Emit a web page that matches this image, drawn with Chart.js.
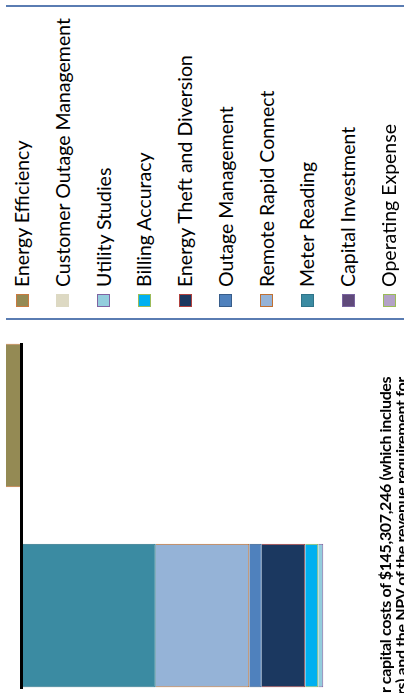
<!DOCTYPE html>
<html lang="en">
<head>
<meta charset="utf-8">
<title>NPV of benefits</title>
<script src="https://cdn.jsdelivr.net/npm/chart.js@4.4.1/dist/chart.umd.min.js"></script>
<style>
    html, body {
        margin: 0;
        padding: 0;
        background: #fff;
    }
    body {
        width: 404px;
        height: 693px;
        overflow: hidden;
        position: relative;
    }
    /* the chart is laid out landscape (693 x 404) and turned a quarter left */
    #sheet {
        position: absolute;
        left: 0;
        top: 0;
        width: 693px;
        height: 404px;
        overflow: hidden;
        transform-origin: 0 0;
        transform: translateY(693px) rotate(-90deg);
        font-family: Lato, "Open Sans", sans-serif;
        color: #000;
    }
    #plot {
        position: absolute;
        left: 0;
        top: 6px;
        width: 350px;
        height: 398px;
    }
    #legend {
        position: absolute;
        left: 373px;
        top: 6px;
        width: 311px;
        height: 398px;
        border-left: 2px solid #5a7cb2;
        border-right: 2px solid #5a7cb2;
    }
    .item {
        position: absolute;
        left: 0;
        width: 311px;
        height: 40px;
    }
    .swatch {
        position: absolute;
        left: 11px;
        top: 13.5px;
        width: 11px;
        height: 11px;
        border: 1px solid;
    }
    .label {
        position: absolute;
        left: 31px;
        top: 0;
        line-height: 40px;
        font-size: 19.5px;
        white-space: nowrap;
    }
    #note {
        position: absolute;
        left: 0;
        top: 376.5px;
        font-weight: bold;
        font-size: 16px;
        line-height: 16.5px;
        letter-spacing: -0.35px;
        white-space: nowrap;
    }
</style>
</head>
<body>
<div id="sheet">
    <div id="plot"><canvas id="barChart"></canvas></div>
    <div id="legend"></div>
    <div id="note">
        <div>r capital costs of $145,307,246 (which includes</div>
        <div style="margin-left: -2px;">rs) and the NPV of the revenue requirement for</div>
    </div>
</div>

<script>
const categories = ['NPV'];

// series in workbook order, the legend lists them the other way round
const seriesNames = [
    'Operating Expense', 'Capital Investment', 'Meter Reading', 'Remote Rapid Connect',
    'Outage Management', 'Energy Theft and Diversion', 'Billing Accuracy', 'Utility Studies',
    'Customer Outage Management', 'Energy Efficiency'
];

// $ millions; Energy Efficiency runs past the edge of the plot
const seriesValues = [null, null, 67.1, 46.8, 6.2, 21.8, 6.5, 2.5, null, -20];

const seriesStacks = [
    'benefits', 'benefits', 'benefits', 'benefits', 'benefits',
    'benefits', 'benefits', 'benefits', 'benefits', 'efficiency'
];

const fillColors = [
    '#b3a2c7', '#604a7b', '#3b8ba2', '#95b3d7', '#4f81bd',
    '#1b3860', '#00b0f0', '#93cddd', '#ddd9c3', '#948a54'
];

const edgeColors = [
    '#9bbb59', '#7a64a0', '#2f7489', '#c07032', '#385d8a',
    '#b0413e', '#9bbb59', '#8064a2', '#ddd9c3', '#c97a40'
];

document.addEventListener('DOMContentLoaded', function () {
    // legend, top row is the last series
    const legend = document.getElementById('legend');
    for (let row = 0; row < seriesNames.length; row++) {
        const i = seriesNames.length - 1 - row;
        const item = document.createElement('div');
        item.className = 'item';
        item.style.top = (-4 + row * 40.78) + 'px';
        item.innerHTML = `
            <div class="swatch" style="background:${fillColors[i]};border-color:${edgeColors[i]}"></div>
            <div class="label">${seriesNames[i]}</div>
        `;
        legend.appendChild(item);
    }

    const ctx = document.getElementById('barChart');
    new Chart(ctx, {
        type: 'bar',
        data: {
            labels: categories,
            datasets: seriesNames.map((name, i) => ({
                label: name,
                data: [seriesValues[i]],
                stack: seriesStacks[i],
                backgroundColor: fillColors[i],
                borderColor: edgeColors[i],
                borderWidth: 1,
                categoryPercentage: 1.16,
                barPercentage: 0.717
            }))
        },
        options: {
            responsive: true,
            maintainAspectRatio: false,
            animation: false,
            layout: {
                padding: { left: 5 }
            },
            scales: {
                x: {
                    position: { y: 0 },
                    grid: { display: false, drawTicks: false },
                    ticks: { display: false },
                    border: { color: '#000', width: 3, z: 1 }
                },
                y: {
                    display: false,
                    stacked: true,
                    reverse: true,
                    min: -7.75,
                    max: 191.25
                }
            },
            plugins: {
                legend: { display: false },
                tooltip: { enabled: false }
            }
        }
    });
});
</script>
</body>
</html>
